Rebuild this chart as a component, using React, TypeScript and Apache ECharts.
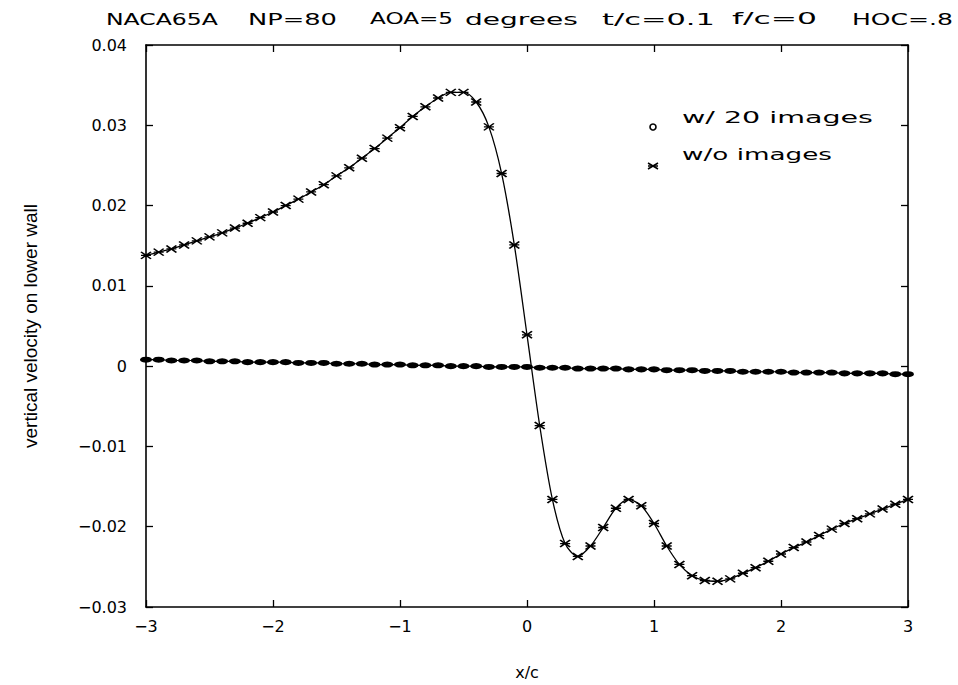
import React, { useEffect, useRef } from 'react';
import * as echarts from 'echarts';

// ---- data ----
const xPositions = [
  -3.0, -2.9, -2.8, -2.7, -2.6, -2.5, -2.4, -2.3, -2.2, -2.1,
  -2.0, -1.9, -1.8, -1.7, -1.6, -1.5, -1.4, -1.3, -1.2, -1.1,
  -1.0, -0.9, -0.8, -0.7, -0.6, -0.5, -0.4, -0.3, -0.2, -0.1,
  0.0, 0.1, 0.2, 0.3, 0.4, 0.5, 0.6, 0.7, 0.8, 0.9,
  1.0, 1.1, 1.2, 1.3, 1.4, 1.5, 1.6, 1.7, 1.8, 1.9,
  2.0, 2.1, 2.2, 2.3, 2.4, 2.5, 2.6, 2.7, 2.8, 2.9, 3.0,
];

const withImages = [
  0.0008, 0.0008, 0.0007, 0.0007, 0.0007,
  0.0006, 0.0006, 0.0006, 0.0005, 0.0005,
  0.0005, 0.0005, 0.0004, 0.0004, 0.0004,
  0.0003, 0.0003, 0.0003, 0.0002, 0.0002,
  0.0002, 0.0001, 0.0001, 0.0001, 0.0,
  0.0, 0.0, -0.0001, -0.0001, -0.0001,
  -0.0001, -0.0002, -0.0002, -0.0002, -0.0003,
  -0.0003, -0.0003, -0.0003, -0.0004, -0.0004,
  -0.0004, -0.0005, -0.0005, -0.0005, -0.0006,
  -0.0006, -0.0006, -0.0007, -0.0007, -0.0007,
  -0.0007, -0.0008, -0.0008, -0.0008, -0.0008,
  -0.0009, -0.0009, -0.0009, -0.0009, -0.001,
  -0.001,
];

const withoutImages = [
  0.0138, 0.0142, 0.0146, 0.0151, 0.0156, 0.0161, 0.0166, 0.0172, 0.0178, 0.0185,
  0.0192, 0.0200, 0.0208, 0.0217, 0.0226, 0.0237, 0.0247, 0.0259, 0.0271, 0.0284,
  0.0297, 0.0311, 0.0323, 0.0334, 0.0341, 0.0341, 0.0329, 0.0298, 0.0240, 0.0151,
  0.0039, -0.0074, -0.0166, -0.0221, -0.0237, -0.0224, -0.0201, -0.0177, -0.0166, -0.0174,
  -0.0196, -0.0224, -0.0247, -0.0261, -0.0267, -0.0268, -0.0265, -0.0258, -0.0251, -0.0243,
  -0.0234, -0.0226, -0.0219, -0.0211, -0.0203, -0.0196, -0.0190, -0.0184, -0.0178, -0.0172,
  -0.0166,
];

const seriesNames = ['w/ 20 images', 'w/o images'];
const titleParts = ['NACA65A', 'NP=80', 'AOA=5', 'degrees', 't/c=0.1', 'f/c=0', 'HOC=.8'];
const xAxisName = 'x/c';
const yAxisName = 'vertical velocity on lower wall';
const xMin = -3, xMax = 3, xStep = 1;
const yMin = -0.03, yMax = 0.04, yStep = 0.01;

// ---- layout (styles only) ----
const titleBoxes: [number, number][] = [
  [106, 218], [248, 337], [370, 453], [465, 578], [602, 715], [732, 817], [852, 953],
];
const TITLE_Y = 19;
const legendBoxes: [number, number, number][] = [
  [682, 873, 117],
  [682, 832, 154],
];
const WIDE_FONT = '"DejaVu Sans"';
const STAR_PATH = 'path://M0,0L10,6M10,0L0,6M0,3L10,3';

function measure(text: string, size: number, family: string): number {
  const c = document.createElement('canvas').getContext('2d');
  if (!c) return text.length * size * 0.6;
  c.font = `${size}px ${family}`;
  return c.measureText(text).width || text.length * size * 0.6;
}

function fittedText(text: string, left: number, right: number, cy: number, size: number) {
  const w = measure(text, size, WIDE_FONT);
  return {
    type: 'text',
    x: left,
    y: cy,
    scaleX: (right - left) / w,
    silent: true,
    style: {
      text,
      fontSize: size,
      fontFamily: WIDE_FONT,
      fill: '#000',
      align: 'left',
      verticalAlign: 'middle',
    },
  };
}

const fmtY = (v: number) => {
  if (Math.abs(v) < 1e-9) return '0';
  return (v < 0 ? '\u2212' : '') + Math.abs(v).toFixed(2);
};
const fmtX = (v: number) => (v < 0 ? '\u2212' + Math.abs(v) : String(v));

export default function App() {
  const ref = useRef<HTMLDivElement>(null);

  useEffect(() => {
    document.body.style.margin = '0';
    if (!ref.current) return;
    const chart = echarts.init(ref.current, null, { renderer: 'svg' });

    const axisLine = { show: true, onZero: false, lineStyle: { color: '#000', width: 1.6 } };
    const tickStyle = { show: true, inside: true, length: 7, lineStyle: { color: '#000', width: 1.3 } };
    const labelStyle = { color: '#000', fontFamily: WIDE_FONT, fontSize: 16 };

    const graphics: any[] = titleBoxes.map((b, i) => fittedText(titleParts[i], b[0], b[1], TITLE_Y, 16));
    legendBoxes.forEach((b, i) => graphics.push(fittedText(seriesNames[i], b[0], b[1], b[2], 16)));
    // legend symbols
    graphics.push({
      type: 'circle',
      silent: true,
      shape: { cx: 653, cy: 127, r: 3 },
      style: { fill: 'none', stroke: '#000', lineWidth: 1.6 },
    });
    graphics.push({
      type: 'group',
      silent: true,
      x: 648,
      y: 163,
      children: [
        { type: 'line', shape: { x1: 0, y1: 0, x2: 10, y2: 6 }, style: { stroke: '#000', lineWidth: 1.5 } },
        { type: 'line', shape: { x1: 10, y1: 0, x2: 0, y2: 6 }, style: { stroke: '#000', lineWidth: 1.5 } },
        { type: 'line', shape: { x1: 0, y1: 3, x2: 10, y2: 3 }, style: { stroke: '#000', lineWidth: 1.5 } },
      ],
    });

    chart.setOption({
      animation: false,
      backgroundColor: '#fff',
      grid: { left: 146, right: 50, top: 45, bottom: 72, containLabel: false },
      xAxis: [
        {
          type: 'value',
          min: xMin,
          max: xMax,
          interval: xStep,
          position: 'bottom',
          name: xAxisName,
          nameLocation: 'middle',
          nameGap: 57,
          nameTextStyle: { color: '#000', fontFamily: WIDE_FONT, fontSize: 16 },
          axisLine,
          axisTick: tickStyle,
          axisLabel: { ...labelStyle, margin: 11, formatter: fmtX },
          splitLine: { show: false },
        },
        {
          type: 'value',
          min: xMin,
          max: xMax,
          interval: xStep,
          position: 'top',
          axisLine,
          axisTick: tickStyle,
          axisLabel: { show: false },
          splitLine: { show: false },
        },
      ],
      yAxis: [
        {
          type: 'value',
          min: yMin,
          max: yMax,
          interval: yStep,
          position: 'left',
          name: yAxisName,
          nameLocation: 'middle',
          nameRotate: 90,
          nameGap: 106,
          nameTextStyle: { color: '#000', fontFamily: '"Liberation Sans"', fontSize: 19 },
          axisLine,
          axisTick: tickStyle,
          axisLabel: { ...labelStyle, margin: 19, formatter: fmtY },
          splitLine: { show: false },
        },
        {
          type: 'value',
          min: yMin,
          max: yMax,
          interval: yStep,
          position: 'right',
          axisLine,
          axisTick: tickStyle,
          axisLabel: { show: false },
          splitLine: { show: false },
        },
      ],
      series: [
        {
          name: seriesNames[0],
          type: 'line',
          xAxisIndex: 0,
          yAxisIndex: 0,
          data: xPositions.map((x, i) => [x, withImages[i]]),
          symbol: 'circle',
          symbolSize: [12, 6],
          showSymbol: true,
          showAllSymbol: true,
          itemStyle: { color: '#000' },
          lineStyle: { color: '#000', width: 1.2 },
          emphasis: { disabled: true },
          z: 2,
        },
        {
          name: seriesNames[1],
          type: 'line',
          xAxisIndex: 0,
          yAxisIndex: 0,
          data: xPositions.map((x, i) => [x, withoutImages[i]]),
          smooth: 0.3,
          symbol: STAR_PATH,
          symbolSize: [10, 7],
          showSymbol: true,
          showAllSymbol: true,
          itemStyle: { color: '#000', borderColor: '#000', borderWidth: 1.6 },
          lineStyle: { color: '#000', width: 1.3 },
          emphasis: { disabled: true },
          z: 3,
        },
      ],
      graphic: graphics,
    });

    return () => {
      chart.dispose();
    };
  }, []);

  return <div ref={ref} style={{ width: 958, height: 685 }} />;
}
